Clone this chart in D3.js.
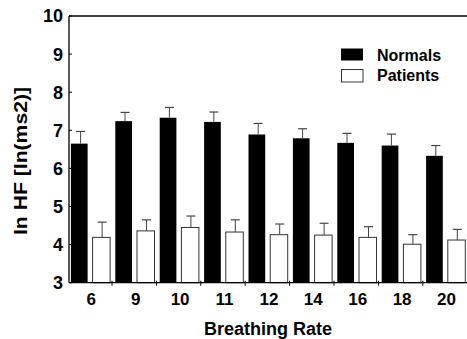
<!DOCTYPE html>
<html><head><meta charset="utf-8">
<script src="https://cdn.jsdelivr.net/npm/d3@7"></script>
<style>body{margin:0;background:#fff}text{font-family:"Liberation Sans",Arial,sans-serif;font-weight:bold;fill:#000}</style>
</head><body><svg id="c" width="467" height="339"></svg>
<script>
const categories = ["6","9","10","11","12","14","16","18","20"];
const normals = [6.65,7.24,7.33,7.22,6.89,6.79,6.67,6.60,6.33];
const normalsErr = [6.97,7.47,7.60,7.48,7.18,7.04,6.92,6.90,6.60];
const patients = [4.19,4.36,4.45,4.33,4.26,4.25,4.19,4.01,4.12];
const patientsErr = [4.59,4.65,4.75,4.65,4.54,4.56,4.47,4.26,4.40];
const yTicks = [3,4,5,6,7,8,9,10];
const seriesNames = ["Normals","Patients"];

const svg = d3.select("#c");
const axisX = 69, plotTop = 16, plotBottom = 282.7, plotRight = 467;
const x = d3.scaleBand().domain(categories).range([67.6, 467.2]).padding(0);
const y = d3.scaleLinear().domain([3,10]).range([plotBottom, plotTop]);

const g = svg.append("g");
const bw = x.bandwidth();
g.selectAll("rect.n").data(categories).join("rect")
  .attr("x", d => Math.max(axisX, x(d) + 3.3)).attr("width", d => x(d)+20 - Math.max(axisX, x(d)+3.3))
  .attr("y", (d,i) => y(normals[i])).attr("height", (d,i) => plotBottom - y(normals[i]))
  .attr("fill", "#000");
g.selectAll("rect.p").data(categories).join("rect")
  .attr("x", d => x(d) + 25).attr("width", 17.5)
  .attr("y", (d,i) => y(patients[i])).attr("height", (d,i) => plotBottom - y(patients[i]))
  .attr("fill", "#fff").attr("stroke", "#333").attr("stroke-width", 1);

function err(vals, errs, cx) {
  categories.forEach((d,i) => {
    const c = cx(d);
    g.append("line").attr("x1", c).attr("x2", c).attr("y1", y(vals[i])).attr("y2", y(errs[i]))
      .attr("stroke", "#444").attr("stroke-width", 1);
    g.append("line").attr("x1", c-4.5).attr("x2", c+4.5).attr("y1", y(errs[i])).attr("y2", y(errs[i]))
      .attr("stroke", "#444").attr("stroke-width", 1.2);
  });
}
err(normals, normalsErr, d => x(d) + 13);
err(patients, patientsErr, d => x(d) + 34.5);

svg.append("line").attr("x1", axisX).attr("x2", plotRight).attr("y1", plotTop).attr("y2", plotTop).attr("stroke","#000").attr("stroke-width",1.3);
svg.append("line").attr("x1", axisX).attr("x2", axisX).attr("y1", plotTop).attr("y2", plotBottom).attr("stroke","#000").attr("stroke-width",1.3);
svg.append("line").attr("x1", axisX).attr("x2", plotRight).attr("y1", plotBottom).attr("y2", plotBottom).attr("stroke","#000").attr("stroke-width",1.3);

yTicks.forEach(t => {
  svg.append("line").attr("x1", axisX).attr("x2", axisX+3).attr("y1", y(t)).attr("y2", y(t)).attr("stroke","#000");
  svg.append("text").attr("x", 63).attr("y", y(t)).attr("dy","0.36em").attr("text-anchor","end")
    .style("font-size","18px").text(t);
});
categories.forEach((d,i) => {
  if (i < categories.length - 1) {
    const tx = x(d) + bw;
    svg.append("line").attr("x1", tx).attr("x2", tx).attr("y1", plotBottom-2).attr("y2", plotBottom+3).attr("stroke","#000");
  }
  svg.append("text").attr("x", x(d) + bw/2 + 1.5).attr("y", 305).attr("text-anchor","middle")
    .style("font-size","17px").text(d);
});

svg.append("text").attr("x", 268).attr("y", 335).attr("text-anchor","middle").style("font-size","18px").text("Breathing Rate");
svg.append("text").attr("transform","translate(27,161) rotate(-90)").attr("text-anchor","middle")
  .attr("textLength", 148).attr("lengthAdjust","spacingAndGlyphs")
  .style("font-size","19px").text("ln HF [ln(ms2)]");

const leg = svg.append("g");
leg.append("rect").attr("x", 341).attr("y", 48.5).attr("width", 22).attr("height", 12).attr("fill","#000");
leg.append("rect").attr("x", 341.5).attr("y", 69.5).attr("width", 21.5).attr("height", 12.5).attr("fill","#fff").attr("stroke","#333");
leg.append("text").attr("x", 377).attr("y", 60.5).style("font-size","16px").text(seriesNames[0]);
leg.append("text").attr("x", 377).attr("y", 81).style("font-size","16px").text(seriesNames[1]);
</script></body></html>
